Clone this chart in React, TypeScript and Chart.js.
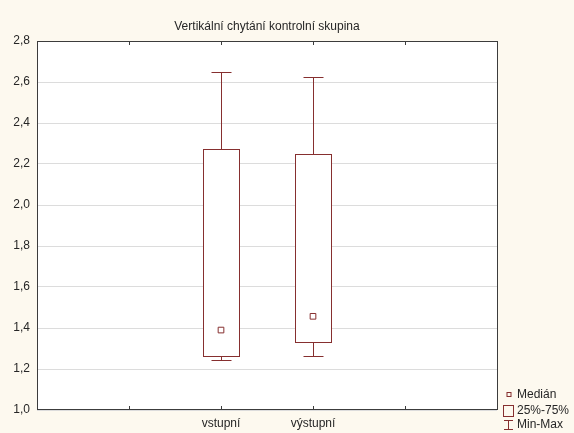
import React, { useEffect, useRef } from "react";
import { Chart, registerables } from "chart.js";

Chart.register(...registerables);

// Box-plot summary per measurement
const categories = ["vstupní", "výstupní"];
const positions = [2, 3];
const minValues = [1.245, 1.265];
const q1Values = [1.265, 1.332];
const medianValues = [1.39, 1.457];
const q3Values = [2.272, 2.248];
const maxValues = [2.65, 2.623];

const yMin = 1.0;
const yMax = 2.8;
const yStep = 0.2;
const xMin = 0;
const xMax = 5;

const titleText = "Vertikální chytání kontrolní skupina";
const legendLabels = ["Medián", "25%-75%", "Min-Max"];

const BG = "#fdf9ef";
const MAROON = "#862f2f";
const FRAME = "#3c3c3c";
const TEXT = "#262626";
const FONT = "'Liberation Sans', Arial, sans-serif";

const px = (v: number) => Math.round(v) + 0.5;

const boxPlotPlugin = {
  id: "boxPlotDecor",
  beforeDraw(chart: any) {
    const { ctx, chartArea: a, width, height } = chart;
    ctx.save();
    ctx.fillStyle = BG;
    ctx.fillRect(0, 0, width, height);
    ctx.fillStyle = "#ffffff";
    ctx.fillRect(a.left, a.top, a.right - a.left, a.bottom - a.top);
    ctx.restore();
  },
  beforeDatasetsDraw(chart: any) {
    const { ctx } = chart;
    const xs = chart.scales.x;
    const ys = chart.scales.y;
    ctx.save();
    ctx.strokeStyle = MAROON;
    ctx.lineWidth = 1;
    const capHalf = 10;
    const boxHalf = 18;
    positions.forEach((p, i) => {
      const cx = px(xs.getPixelForValue(p));
      const yTop = px(ys.getPixelForValue(maxValues[i]));
      const yQ3 = px(ys.getPixelForValue(q3Values[i]));
      const yQ1 = px(ys.getPixelForValue(q1Values[i]));
      const yBot = px(ys.getPixelForValue(minValues[i]));
      // whiskers with caps
      ctx.beginPath();
      ctx.moveTo(cx, yQ3);
      ctx.lineTo(cx, yTop);
      ctx.moveTo(cx - capHalf, yTop);
      ctx.lineTo(cx + capHalf, yTop);
      ctx.moveTo(cx, yQ1);
      ctx.lineTo(cx, yBot);
      ctx.moveTo(cx - capHalf, yBot);
      ctx.lineTo(cx + capHalf, yBot);
      ctx.stroke();
      // 25%-75% box
      ctx.fillStyle = "#ffffff";
      ctx.fillRect(cx - boxHalf, yQ3, boxHalf * 2, yQ1 - yQ3);
      ctx.strokeRect(cx - boxHalf, yQ3, boxHalf * 2, yQ1 - yQ3);
    });
    ctx.restore();
  },
  afterDraw(chart: any) {
    const { ctx, chartArea: a } = chart;
    const xs = chart.scales.x;
    ctx.save();
    // plot frame
    ctx.strokeStyle = FRAME;
    ctx.lineWidth = 1;
    ctx.strokeRect(a.left + 0.5, a.top + 0.5, a.right - a.left, a.bottom - a.top - 1);
    // inner tick marks on top and bottom edges
    ctx.beginPath();
    for (let v = xMin + 1; v < xMax; v++) {
      const x = px(xs.getPixelForValue(v));
      ctx.moveTo(x, a.top);
      ctx.lineTo(x, a.top + 4);
      ctx.moveTo(x, a.bottom);
      ctx.lineTo(x, a.bottom - 4);
    }
    ctx.stroke();

    // legend
    const lx = 508.5;
    const tx = 517;
    ctx.strokeStyle = MAROON;
    ctx.strokeRect(lx - 1.5, 392.5, 4, 4);
    ctx.strokeRect(503.5, 405.5, 10, 11);
    ctx.beginPath();
    ctx.moveTo(504, 420.5);
    ctx.lineTo(513, 420.5);
    ctx.moveTo(lx, 420.5);
    ctx.lineTo(lx, 429.5);
    ctx.moveTo(504, 429.5);
    ctx.lineTo(513, 429.5);
    ctx.stroke();
    ctx.fillStyle = TEXT;
    ctx.font = `12px ${FONT}`;
    ctx.textBaseline = "middle";
    ctx.textAlign = "left";
    ctx.fillText(legendLabels[0], tx, 395);
    ctx.fillText(legendLabels[1], tx, 411);
    ctx.fillText(legendLabels[2], tx, 425);
    ctx.restore();
  },
};

export default function App() {
  const canvasRef = useRef<HTMLCanvasElement | null>(null);

  useEffect(() => {
    if (!canvasRef.current) return;
    Chart.defaults.font.family = FONT;
    const medianData = positions.map((p, i) => ({ x: p, y: medianValues[i] }));

    const chart = new Chart(canvasRef.current, {
      type: "line",
      data: {
        datasets: [
          {
            label: "Medián",
            data: medianData,
            showLine: false,
            pointStyle: "rect",
            pointRadius: 4,
            pointBorderWidth: 1,
            pointBackgroundColor: "#ffffff",
            pointBorderColor: MAROON,
          } as any,
        ],
      },
      options: {
        responsive: false,
        animation: false,
        layout: { padding: { top: 0, right: 77, bottom: 0, left: 0 } },
        plugins: {
          legend: { display: false },
          tooltip: { enabled: false },
          title: {
            display: true,
            text: titleText,
            fullSize: false,
            color: TEXT,
            font: { family: FONT, size: 12, weight: "normal" },
            padding: { top: 19, bottom: 7.6 },
          },
        },
        scales: {
          x: {
            type: "linear",
            min: xMin,
            max: xMax,
            offset: false,
            grid: { display: false, drawTicks: false },
            border: { display: false },
            ticks: {
              stepSize: 1,
              autoSkip: false,
              maxRotation: 0,
              padding: 6,
              color: TEXT,
              font: { size: 12 },
              callback: (v: any) => {
                const idx = positions.indexOf(Number(v));
                return idx >= 0 ? categories[idx] : "";
              },
            },
            afterFit: (scale: any) => {
              scale.height = 23;
            },
          },
          y: {
            type: "linear",
            min: yMin,
            max: yMax,
            grid: { color: "#dcdcdc", drawTicks: false },
            border: { display: false },
            ticks: {
              stepSize: yStep,
              padding: 7,
              color: TEXT,
              font: { size: 12 },
              callback: (v: any) => Number(v).toFixed(1).replace(".", ","),
            },
            afterFit: (scale: any) => {
              scale.width = 37;
            },
          },
        },
      },
      plugins: [boxPlotPlugin],
    });
    return () => chart.destroy();
  }, []);

  return (
    <div style={{ position: "fixed", left: 0, top: 0, width: 574, height: 433, background: BG }}>
      <canvas ref={canvasRef} width={574} height={433} style={{ display: "block" }} />
    </div>
  );
}
